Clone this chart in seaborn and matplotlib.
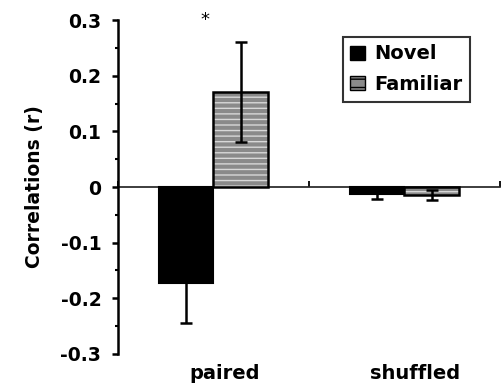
import numpy as np
import pandas as pd
import matplotlib
matplotlib.use("Agg")
import matplotlib.pyplot as plt
import matplotlib.transforms as mtransforms
from matplotlib.patches import Patch, Rectangle
from matplotlib.ticker import MultipleLocator, FixedLocator, NullFormatter
import seaborn as sns

# Mean correlations and their standard errors per condition
groups = ["paired", "shuffled"]
conditions = ["Novel", "Familiar"]
novel_r = [-0.173, -0.013]
familiar_r = [0.170, -0.015]
novel_err = [0.072, 0.009]
familiar_err = [0.090, 0.009]
y_ticks = [-0.3, -0.2, -0.1, 0, 0.1, 0.2, 0.3]
y_tick_labels = ["-0.3", "-0.2", "-0.1", "0", "0.1", "0.2", "0.3"]

df = pd.DataFrame({
    "group": groups * 2,
    "condition": [conditions[0]] * 2 + [conditions[1]] * 2,
    "r": novel_r + familiar_r,
    "err": novel_err + familiar_err,
})

sns.set_theme(style="white")
plt.rcParams["font.family"] = ["DejaVu Sans"]
plt.rcParams["font.weight"] = "bold"
plt.rcParams["hatch.linewidth"] = 1.0
for key in ["text.color", "axes.labelcolor", "xtick.color", "ytick.color"]:
    plt.rcParams[key] = "black"

fig = plt.figure(figsize=(5.01, 3.86), dpi=100)
ax = fig.add_axes([0.2355, 0.083, 0.7625, 0.865])

palette = {"Novel": "black", "Familiar": "#8a8a8a"}
sns.barplot(data=df, x="group", y="r", hue="condition", hue_order=conditions,
            order=groups, palette=palette, errorbar=None, width=0.575,
            edgecolor="black", linewidth=1.5, legend=False, ax=ax)

# Familiar bars: gray fill with light horizontal dashes plus a black outline
for bar in ax.containers[1]:
    bar.set_edgecolor("#d8d8d8")
    bar.set_hatch("---")
    bar.set_linewidth(0)
    ax.add_patch(Rectangle((bar.get_x(), bar.get_y()), bar.get_width(),
                           bar.get_height(), fill=False, edgecolor="black",
                           linewidth=1.8, zorder=bar.get_zorder() + 0.1))

# Error bars at the bar centres
for container, level in zip(ax.containers, conditions):
    sub = df[df["condition"] == level].set_index("group").loc[groups]
    xs = [b.get_x() + b.get_width() / 2 for b in container]
    ax.errorbar(xs, sub["r"].values, yerr=sub["err"].values, fmt="none",
                ecolor="black", elinewidth=1.8, capsize=4.5, capthick=1.8,
                zorder=5)

ax.set_xlim(-0.5, 1.5)
ax.set_ylim(-0.3, 0.3)

# Y axis
ax.yaxis.set_major_locator(FixedLocator(y_ticks))
ax.set_yticklabels(y_tick_labels, fontsize=13.5, fontweight="bold")
ax.yaxis.set_minor_locator(MultipleLocator(0.05))
ax.tick_params(axis="y", which="major", direction="out", length=4,
               width=1.8, pad=8, left=True, colors="black")
ax.tick_params(axis="y", which="minor", direction="out", length=2.5,
               width=1.5, left=True)
ax.set_ylabel("Correlations (r)", fontsize=13.5, fontweight="bold",
              labelpad=12)

# X labels at the bottom, axis line drawn at zero
ax.set_xlabel("")
ax.set_xticks(range(len(groups)))
ax.set_xticklabels(groups, fontsize=14, fontweight="bold")
ax.tick_params(axis="x", length=0, pad=7)
shift = mtransforms.ScaledTranslation(0.11, 0, fig.dpi_scale_trans)
for lab in ax.get_xticklabels():
    lab.set_transform(lab.get_transform() + shift)
for side in ["top", "right", "bottom"]:
    ax.spines[side].set_visible(False)
ax.spines["left"].set_linewidth(1.8)
ax.spines["left"].set_color("black")

zero_axis = ax.secondary_xaxis(0.5)
zero_axis.set_xticks([-0.5, 0.5, 1.5])
zero_axis.xaxis.set_major_formatter(NullFormatter())
zero_axis.tick_params(axis="x", direction="out", length=4, width=1.3)
zero_axis.spines["bottom"].set_linewidth(1.0)
zero_axis.spines["bottom"].set_color("#333333")

# Significance marker above the paired group
ax.text(-0.045, 0.30, "*", ha="center", va="center", fontsize=13,
        fontweight="normal", clip_on=False)

handles = [Patch(facecolor="black", edgecolor="black"),
           Patch(facecolor="#8a8a8a", edgecolor="black", hatch="--")]
leg = ax.legend(handles, conditions, loc="upper left",
                bbox_to_anchor=(0.589, 0.949), frameon=True, fancybox=False,
                prop={"weight": "bold", "size": 14}, handlelength=0.77,
                handleheight=0.72, handletextpad=0.45, borderpad=0.38,
                labelspacing=0.6, borderaxespad=0)
leg.get_frame().set_edgecolor("black")
leg.get_frame().set_linewidth(1.5)

fig.savefig("out.png", dpi=100)
